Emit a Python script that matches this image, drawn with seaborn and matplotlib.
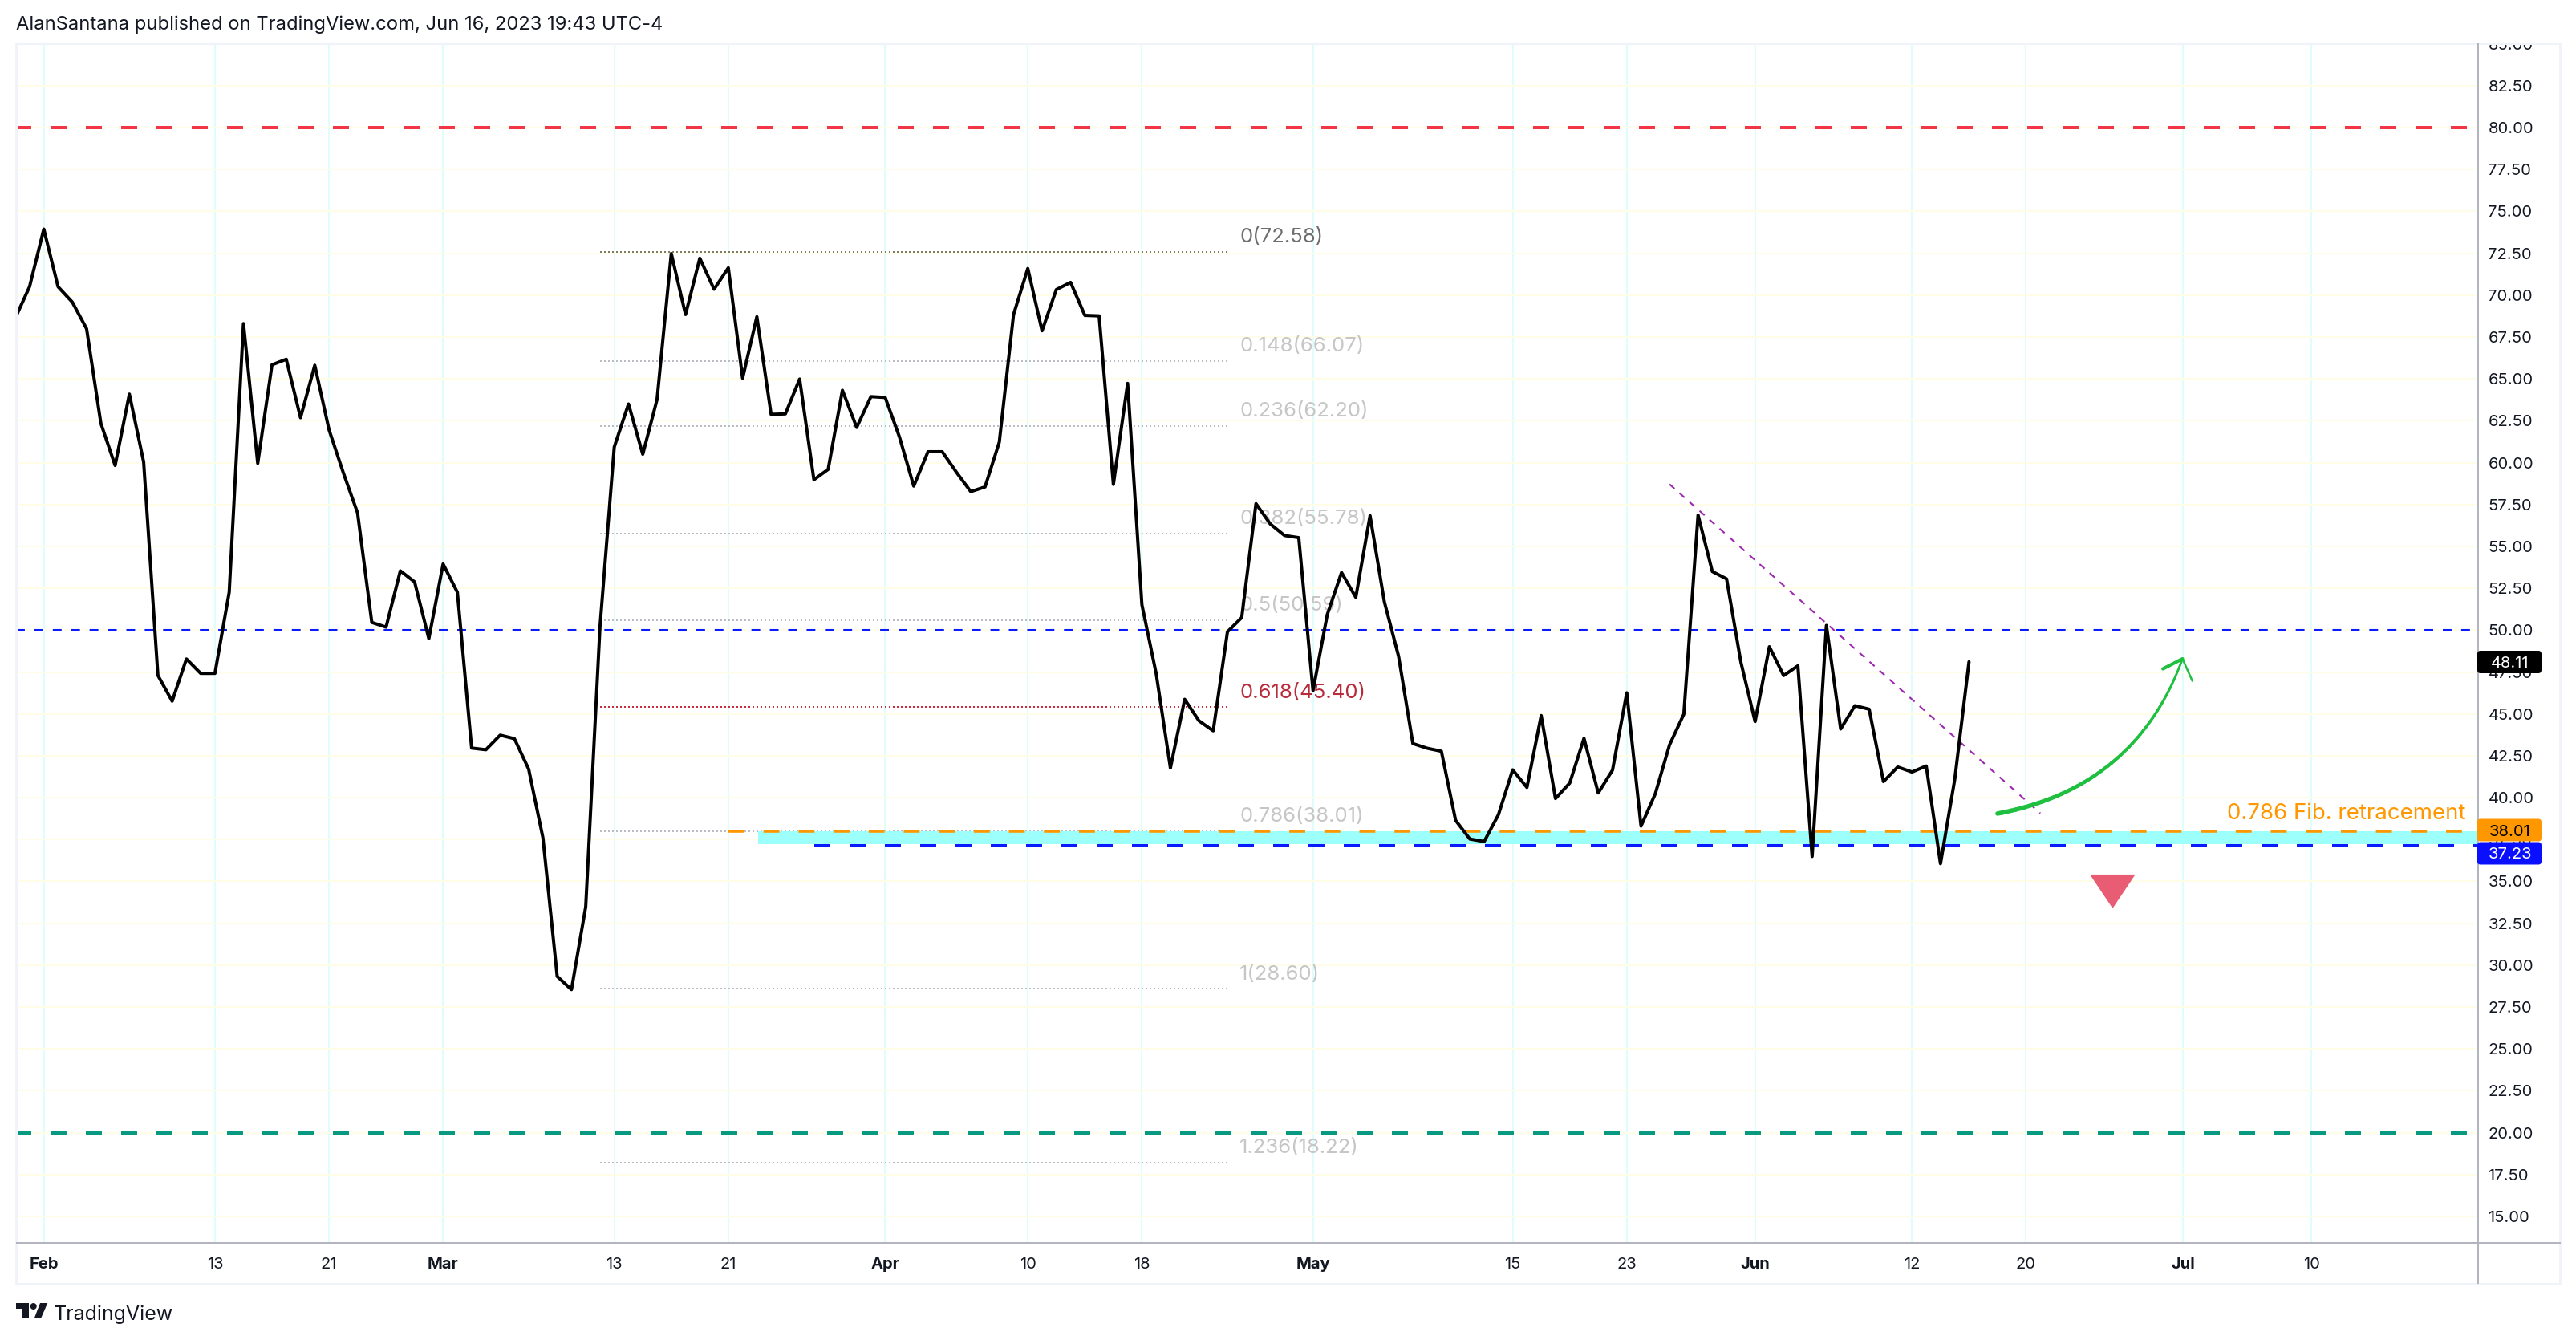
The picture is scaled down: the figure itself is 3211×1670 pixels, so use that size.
"""Daily price chart with fib levels, redrawn in the TradingView look."""

import matplotlib.pyplot as plt
import numpy as np
import pandas as pd
import seaborn as sns
from matplotlib.collections import LineCollection
from matplotlib.patches import Circle, FancyBboxPatch, Polygon, Rectangle
from matplotlib.transforms import Affine2D

WIDTH = 3212
HEIGHT = 1670

# day number 0 is Feb 1
first_day = -2
close_prices = [
    68.63, 70.5, 73.94, 70.5, 69.58, 67.99, 62.35, 59.83, 64.09, 60.04,
    47.3, 45.76, 48.28, 47.42, 47.42, 52.26, 68.3, 59.96, 65.84, 66.17,
    62.68, 65.81, 61.96, 59.4, 57.0, 50.46, 50.18, 53.54, 52.88, 49.49,
    53.95, 52.26, 42.96, 42.86, 43.73, 43.52, 41.7, 37.6, 29.33, 28.54,
    33.49, 50.2, 60.93, 63.5, 60.5, 63.76, 72.48, 68.84, 72.2, 70.35,
    71.63, 65.04, 68.71, 62.88, 62.91, 64.99, 58.98, 59.6, 64.32, 62.1,
    63.94, 63.89, 61.53, 58.6, 60.65, 60.65, 59.42, 58.27, 58.55, 61.22,
    68.84, 71.59, 67.87, 70.33, 70.76, 68.79, 68.76, 58.7, 64.73, 51.52,
    47.41, 41.77, 45.87, 44.59, 43.99, 49.9, 50.75, 57.55, 56.34, 55.65,
    55.52, 46.39, 50.93, 53.44, 51.96, 56.83, 51.7, 48.44, 43.23, 42.95,
    42.77, 38.64, 37.53, 37.38, 38.98, 41.66, 40.61, 44.9, 39.95, 40.87,
    43.54, 40.28, 41.64, 46.26, 38.3, 40.23, 43.15, 44.98, 56.87, 53.5,
    53.06, 48.1, 44.54, 49.01, 47.29, 47.87, 36.49, 50.28, 44.1, 45.49,
    45.28, 40.96, 41.83, 41.53, 41.89, 36.06, 41.09, 48.11,
]

date_tick_days = [0, 12, 20, 28, 40, 48, 59, 69, 77, 89, 103, 111, 120, 131, 139, 150, 159]
date_tick_labels = ["Feb", "13", "21", "Mar", "13", "21", "Apr", "10", "18", "May",
                    "15", "23", "Jun", "12", "20", "Jul", "10"]
month_labels = ["Feb", "Mar", "Apr", "May", "Jun", "Jul"]
price_ticks = [15.0 + 2.5 * i for i in range(29)]

fib_ratios = ["0", "0.148", "0.236", "0.382", "0.5", "0.618", "0.786", "1", "1.236"]
fib_prices = [72.58, 66.07, 62.20, 55.78, 50.59, 45.40, 38.01, 28.60, 18.22]
fib_line_colors = ["#7d7d66", "#b9bcc2", "#b9bcc2", "#b9bcc2", "#b9bcc2", "#c9303f", "#b9bcc2", "#b9bcc2", "#b9bcc2"]
fib_text_colors = ["#6e6e6e", "#c6c6c6", "#c6c6c6", "#c6c6c6", "#c6c6c6", "#b82b3a", "#c6c6c6", "#c6c6c6", "#c6c6c6"]
fib_days = [39, 83]

trend_days = [114.0, 140.0]
trend_prices = [58.71, 39.07]
zone_days = [50.1, 171.0]
zone_prices = [37.25, 38.0]
orange_days = [48, 171]
blue_days = [54, 171]
arrow_days = [137.0, 146.7, 149.97]
arrow_prices = [39.05, 40.6, 48.29]
wing_days = [148.6, 150.66]
wing_prices = [47.69, 46.97]
triangle_days = [143.48, 146.66, 145.07]
triangle_prices = [35.41, 35.41, 33.39]


def style_axes(ax):
    ax.set_xlim(-1.947, 170.7)
    ax.set_ylim(13.42, 85.03)
    ax.set_xticks(date_tick_days)
    ax.set_xticklabels(date_tick_labels)
    ax.set_yticks(price_ticks)
    ax.set_yticklabels([f"{p:.2f}" for p in price_ticks])
    ax.yaxis.tick_right()
    ax.grid(True, axis="x", color="#e0fdfb", lw=1.5)
    ax.grid(True, axis="y", color="#fffde8", lw=1.5)
    ax.set_axisbelow(True)
    ax.tick_params(axis="x", length=0, pad=13, labelsize=14.5, labelcolor="#131722")
    ax.tick_params(axis="y", length=0, pad=9, labelsize=14.5, labelcolor="#131722")
    for label in ax.get_xticklabels():
        if label.get_text() in month_labels:
            label.set_fontweight("bold")
    for side in ax.spines:
        ax.spines[side].set_visible(False)
    ax.set_xlabel("")
    ax.set_ylabel("")


def draw_levels(ax):
    dash_style = {"lw": 2.88, "dashes": (5, 6), "zorder": 2}
    ax.plot([-2, 171], [80, 80], color="#f23645", **dash_style)
    ax.plot([-2, 171], [20, 20], color="#089981", **dash_style)
    ax.plot([-1.947, 171], [50, 50], color="#0a1cff", lw=1.5, dashes=(5.25, 5.75), zorder=2)
    ax.plot(blue_days, [37.15, 37.15], color="#0a1cff", **dash_style)

    ax.fill_between(zone_days, zone_prices[0], zone_prices[1], color="#9cfffb", lw=0, zorder=2.2)
    ax.plot(orange_days, [38.01, 38.01], color="#ff9800", lw=2.6, dashes=(5.5, 6.6), zorder=2.4)

    for ratio, price, line_color, text_color in zip(fib_ratios, fib_prices, fib_line_colors, fib_text_colors):
        ax.plot(fib_days, [price, price], color=line_color, lw=1.44, dashes=(1, 1.5), zorder=1.8)
        ax.annotate(f"{ratio}({price:.2f})", (fib_days[1], price), xytext=(11, 13),
                    textcoords="offset points", color=text_color, fontsize=18.5, va="center", zorder=1.9)

    ax.plot(trend_days, trend_prices, color="#9c27b0", lw=1.5, dashes=(4, 4), zorder=2.6)
    ax.text(169.8, 39.05, "0.786 Fib. retracement", color="#ff9800", fontsize=19.9,
            ha="right", va="center", zorder=2.6)


def draw_drawings(ax):
    # hand drawn arrow, thick at the tail and thin at the head
    t = np.linspace(0, 1, 60)[:, None]
    control = np.column_stack([arrow_days, arrow_prices])
    curve = (1 - t) ** 2 * control[0] + 2 * t * (1 - t) * control[1] + t ** 2 * control[2]
    segments = np.stack([curve[:-1], curve[1:]], axis=1)
    ax.add_collection(LineCollection(segments, colors="#1fbf40", linewidths=np.linspace(4.0, 2.0, 59),
                                     capstyle="round", zorder=4))
    ax.plot([wing_days[0], arrow_days[2]], [wing_prices[0], arrow_prices[2]], color="#1fbf40", lw=3.0, zorder=4)
    ax.plot([wing_days[1], arrow_days[2]], [wing_prices[1], arrow_prices[2]], color="#1fbf40", lw=1.8, zorder=4)
    ax.fill(triangle_days, triangle_prices, color="#e85d74", lw=0, zorder=4)


def draw_frame(fig):
    to_fig = Affine2D().scale(1 / WIDTH, -1 / HEIGHT).translate(0, 1) + fig.transFigure

    def add(patch):
        patch.set_transform(to_fig)
        fig.add_artist(patch)

    # covers the top tick label where the frame cuts it
    add(Rectangle((0, 0), WIDTH, 53, facecolor="white", edgecolor="none", zorder=2))
    add(Rectangle((20.5, 53.5), 3171, 1546, facecolor="none", edgecolor="#f0f3fa", lw=2.2, zorder=3))
    add(Rectangle((3087.7, 54), 2.6, 1546, facecolor="#b2b5be", edgecolor="none", zorder=3))
    add(Rectangle((20, 1547.7), 3172, 2.6, facecolor="#b2b5be", edgecolor="none", zorder=3))

    tags = [(825, "#000000", "#ffffff", "48.11"), (1034.5, "#ff9800", "#000000", "38.01"), (1063.5, "#0a10ff", "#ffffff", "37.23")]
    for center, face, text_color, text in tags:
        add(FancyBboxPatch((3088, center - 14), 80, 28, boxstyle="round,pad=0,rounding_size=4", facecolor=face,
                           edgecolor=face, lw=0, zorder=4))
        fig.text(3129 / WIDTH, 1 - center / HEIGHT, text, color=text_color, fontsize=14.5,
                 ha="center", va="center_baseline", zorder=5)

    fig.text(20 / WIDTH, 1 - 31 / HEIGHT, "AlanSantana published on TradingView.com, Jun 16, 2023 19:43 UTC-4",
             color="#131722", fontsize=17.1, ha="left", va="center", zorder=5)

    # TradingView logo
    logo_color = "#131722"
    add(Polygon([(20, 1624), (36, 1624), (36, 1643), (28, 1643), (28, 1631), (20, 1631)],
                closed=True, facecolor=logo_color, edgecolor="none", zorder=5))
    add(Circle((41.7, 1628), 4, facecolor=logo_color, edgecolor="none", zorder=5))
    add(Polygon([(50, 1624), (59.3, 1624), (51, 1643), (42.7, 1643)],
                closed=True, facecolor=logo_color, edgecolor="none", zorder=5))
    fig.text(67 / WIDTH, 1 - 1638 / HEIGHT, "TradingView", color="#131722", fontsize=18,
             ha="left", va="center", zorder=5)


def main():
    sns.set_theme(style="white")
    plt.rcParams["font.family"] = ["Inter", "DejaVu Sans"]

    prices = pd.DataFrame({"close": close_prices})
    prices["day"] = np.arange(first_day, first_day + len(prices))

    fig = plt.figure(figsize=(WIDTH / 100, HEIGHT / 100), dpi=100)
    ax = fig.add_axes([20 / WIDTH, 1 - 1549 / HEIGHT, (3089 - 20) / WIDTH, (1549 - 54) / HEIGHT])

    sns.lineplot(data=prices, x="day", y="close", color="black", linewidth=2.9, zorder=3,
                 estimator=None, ax=ax)
    style_axes(ax)
    draw_levels(ax)
    draw_drawings(ax)
    draw_frame(fig)

    fig.savefig("out.png", dpi=100)
    plt.close(fig)


if __name__ == "__main__":
    main()
